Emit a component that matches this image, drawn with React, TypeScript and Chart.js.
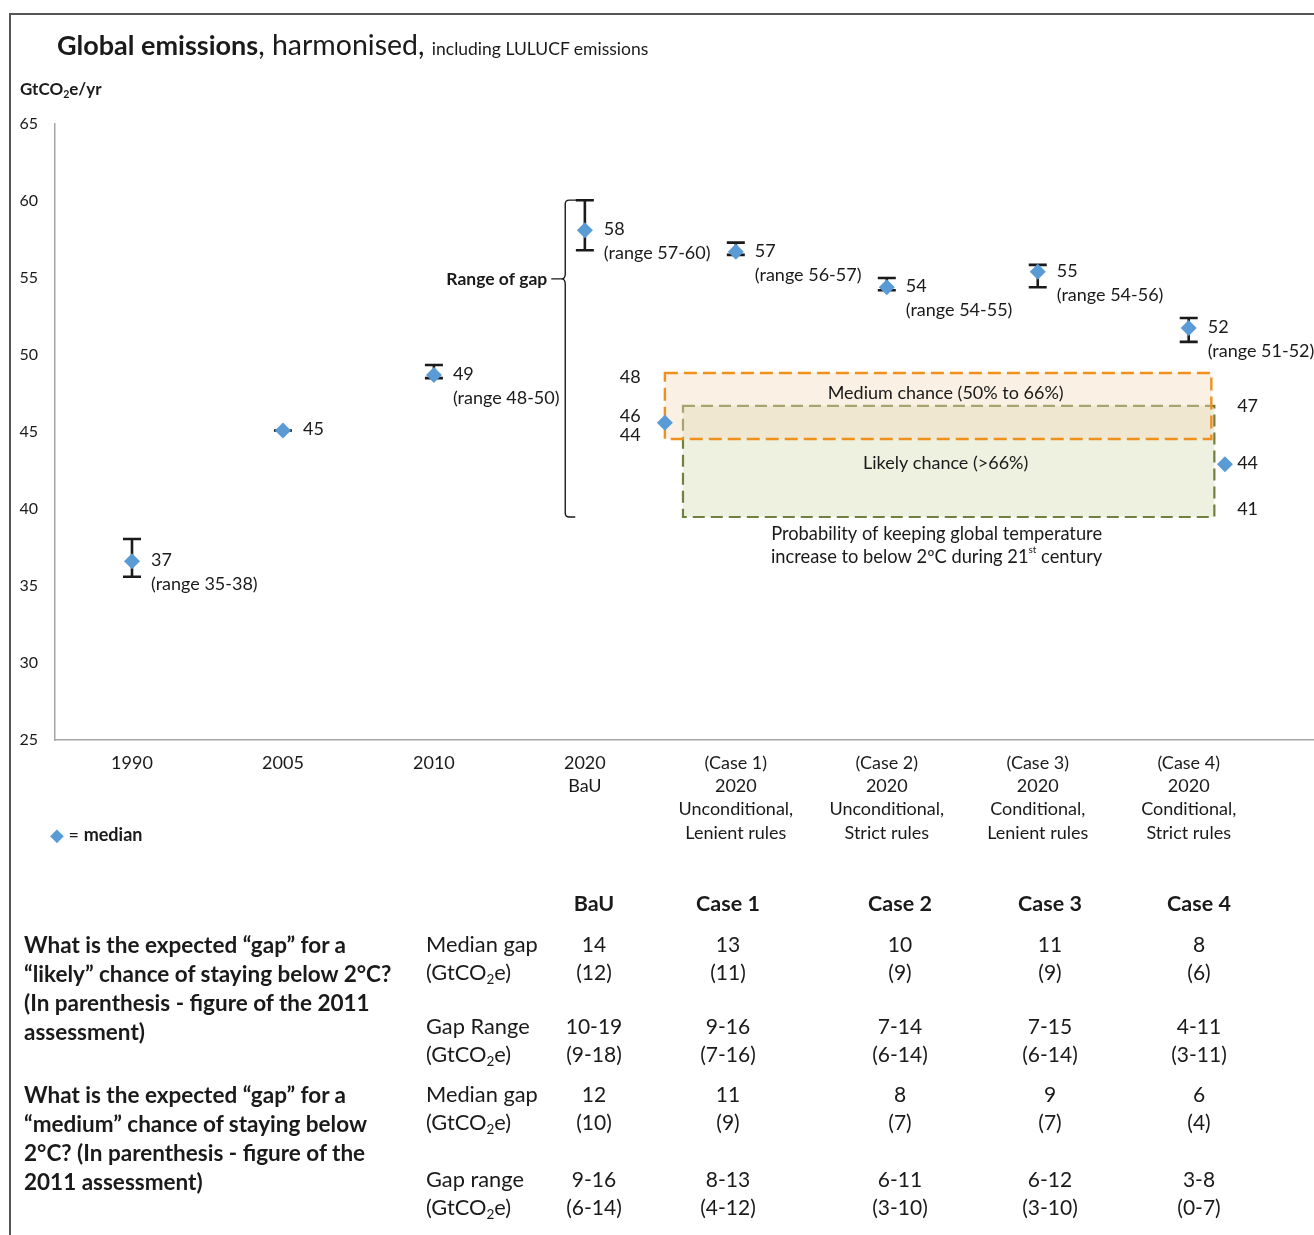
import React, { useEffect, useRef } from "react";
import { Chart, registerables } from "chart.js";

Chart.register(...registerables);

const FONT = "Lato, 'Noto Sans', sans-serif";
const INK = "#1a1a1a";

// ---------- chart data ----------
const categoryLabels: string[][] = [
  ["1990"],
  ["2005"],
  ["2010"],
  ["2020", "BaU"],
  ["(Case 1)", "2020", "Unconditional,", "Lenient rules"],
  ["(Case 2)", "2020", "Unconditional,", "Strict rules"],
  ["(Case 3)", "2020", "Conditional,", "Lenient rules"],
  ["(Case 4)", "2020", "Conditional,", "Strict rules"],
];
const medians = [36.6, 45.1, 48.7, 58.1, 56.7, 54.4, 55.4, 51.75];
const lows = [35.6, 45.1, 48.5, 56.8, 56.5, 54.2, 54.4, 50.85];
const highs = [38.05, 45.1, 49.35, 60.05, 57.3, 55.0, 55.85, 52.4];
const medianLabels = ["37", "45", "49", "58", "57", "54", "55", "52"];
const rangeLabels = [
  "(range 35-38)",
  "",
  "(range 48-50)",
  "(range 57-60)",
  "(range 56-57)",
  "(range 54-55)",
  "(range 54-56)",
  "(range 51-52)",
];
const yTicks = [25, 30, 35, 40, 45, 50, 55, 60, 65];

// probability boxes (x in category units, y in GtCO2e)
const targetX = [3.53, 7.24];
const targetY = [45.6, 42.9];
const mediumBox = { x0: 3.53, x1: 7.15, y0: 44.55, y1: 48.83 };
const likelyBox = { x0: 3.65, x1: 7.17, y0: 39.48, y1: 46.69 };
const leftBoxLabels = ["48", "46", "44"];
const leftBoxLabelY = [48.57, 46.04, 44.8];
const rightBoxLabels = ["47", "44", "41"];
const rightBoxLabelY = [46.69, 42.99, 40.0];
const gapBrace = { x: 2.87, top: 60.06, bottom: 39.48, tip: 54.94 };

// ---------- table data ----------
const tableColumns = ["BaU", "Case 1", "Case 2", "Case 3", "Case 4"];
const likelyMedianGap = ["14", "13", "10", "11", "8"];
const likelyMedianGap2011 = ["(12)", "(11)", "(9)", "(9)", "(6)"];
const likelyGapRange = ["10-19", "9-16", "7-14", "7-15", "4-11"];
const likelyGapRange2011 = ["(9-18)", "(7-16)", "(6-14)", "(6-14)", "(3-11)"];
const mediumMedianGap = ["12", "11", "8", "9", "6"];
const mediumMedianGap2011 = ["(10)", "(9)", "(7)", "(7)", "(4)"];
const mediumGapRange = ["9-16", "8-13", "6-11", "6-12", "3-8"];
const mediumGapRange2011 = ["(6-14)", "(4-12)", "(3-10)", "(3-10)", "(0-7)"];

// layout constants for the table
const colX = [594, 728, 900, 1050, 1199];

const Sub = ({ children }: { children: React.ReactNode }) => (
  <span style={{ fontSize: "0.62em", position: "relative", top: "0.28em" }}>{children}</span>
);

const Cell = ({
  cx,
  cy,
  children,
  bold,
  size = 21,
  w = 200,
}: {
  cx: number;
  cy: number;
  children: React.ReactNode;
  bold?: boolean;
  size?: number;
  w?: number;
}) => (
  <div
    style={{
      position: "absolute",
      left: cx - w / 2,
      width: w,
      top: cy - 15,
      height: 30,
      lineHeight: "30px",
      textAlign: "center",
      fontSize: size,
      fontWeight: bold ? 700 : 400,
      whiteSpace: "nowrap",
    }}
  >
    {children}
  </div>
);

const LeftText = ({ x, cy, children, bold, size = 21.8 }: any) => (
  <div
    style={{
      position: "absolute",
      left: x,
      top: cy - 15,
      height: 30,
      lineHeight: "30px",
      fontSize: size,
      fontWeight: bold ? 700 : 400,
      whiteSpace: "nowrap",
    }}
  >
    {children}
  </div>
);

export default function App() {
  const ref = useRef<HTMLCanvasElement>(null);

  useEffect(() => {
    document.body.style.margin = "0";
    const canvas = ref.current!;

    const overlay = {
      id: "overlay",
      beforeDatasetsDraw(chart: any) {
        const { ctx } = chart;
        const xs = chart.scales.x;
        const ys = chart.scales.y;
        const px = (v: number) => xs.getPixelForValue(v);
        const py = (v: number) => ys.getPixelForValue(v);
        ctx.save();

        // likely box (drawn first)
        const lb = likelyBox;
        ctx.fillStyle = "rgb(238,240,224)";
        ctx.fillRect(px(lb.x0), py(lb.y1), px(lb.x1) - px(lb.x0), py(lb.y0) - py(lb.y1));
        ctx.setLineDash([12, 6]);
        ctx.lineWidth = 2.2;
        ctx.strokeStyle = "#6f8040";
        ctx.strokeRect(px(lb.x0), py(lb.y1), px(lb.x1) - px(lb.x0), py(lb.y0) - py(lb.y1));

        // medium box (semi transparent over)
        const mb = mediumBox;
        ctx.fillStyle = "rgba(243,218,187,0.41)";
        ctx.fillRect(px(mb.x0), py(mb.y1), px(mb.x1) - px(mb.x0), py(mb.y0) - py(mb.y1));
        ctx.strokeStyle = "#f0901c";
        ctx.lineWidth = 2.4;
        ctx.setLineDash([13, 6]);
        ctx.strokeRect(px(mb.x0), py(mb.y1), px(mb.x1) - px(mb.x0), py(mb.y0) - py(mb.y1));
        ctx.setLineDash([]);

        // error bars
        ctx.strokeStyle = INK;
        ctx.lineWidth = 2.6;
        for (let i = 0; i < medians.length; i++) {
          const x = px(i);
          const yl = py(lows[i]);
          const yh = py(highs[i]);
          ctx.beginPath();
          ctx.moveTo(x, yl);
          ctx.lineTo(x, yh);
          ctx.moveTo(x - 9, yl);
          ctx.lineTo(x + 9, yl);
          ctx.moveTo(x - 9, yh);
          ctx.lineTo(x + 9, yh);
          ctx.stroke();
        }

        // brace
        const bx = px(gapBrace.x);
        const bt = py(gapBrace.top);
        const bb = py(gapBrace.bottom);
        const btip = py(gapBrace.tip);
        ctx.lineWidth = 1.4;
        ctx.beginPath();
        ctx.moveTo(bx + 13, bt);
        ctx.lineTo(bx + 4, bt);
        ctx.quadraticCurveTo(bx, bt, bx, bt + 4);
        ctx.lineTo(bx, btip - 5);
        ctx.quadraticCurveTo(bx, btip, bx - 4, btip);
        ctx.quadraticCurveTo(bx, btip, bx, btip + 5);
        ctx.lineTo(bx, bb - 4);
        ctx.quadraticCurveTo(bx, bb, bx + 4, bb);
        ctx.lineTo(bx + 10, bb);
        ctx.moveTo(bx - 4, btip);
        ctx.lineTo(bx - 14, btip);
        ctx.stroke();

        ctx.restore();
      },
      afterDatasetsDraw(chart: any) {
        const { ctx } = chart;
        const xs = chart.scales.x;
        const ys = chart.scales.y;
        const px = (v: number) => xs.getPixelForValue(v);
        const py = (v: number) => ys.getPixelForValue(v);
        ctx.save();
        ctx.fillStyle = INK;
        ctx.textBaseline = "middle";
        const text = (s: string, x: number, y: number, size: number, align: any = "left", weight = "400") => {
          ctx.font = `${weight} ${size}px ${FONT}`;
          ctx.textAlign = align;
          ctx.fillText(s, x, y);
        };

        for (let i = 0; i < medians.length; i++) {
          const x = px(i) + 19;
          const y = py(medians[i]);
          text(medianLabels[i], x + (i === 1 ? 1 : 0), y - 1, 18);
          if (rangeLabels[i]) text(rangeLabels[i], x, y + 23, 18);
        }

        text("Range of gap", px(gapBrace.x) - 18, py(gapBrace.tip), 17.5, "right", "700");

        leftBoxLabels.forEach((s, i) => text(s, px(3.3), py(leftBoxLabelY[i]), 18, "center"));
        rightBoxLabels.forEach((s, i) => text(s, px(7.39), py(rightBoxLabelY[i]), 18, "center"));

        text("Medium chance (50% to 66%)", px(5.39), py(47.53), 18, "center");
        text("Likely chance (>66%)", px(5.39), py(42.99), 18, "center");
        text("Probability of keeping global temperature", px(5.33), py(38.38), 18.3, "center");

        // second line with superscript "st"
        ctx.font = `400 18.3px ${FONT}`;
        const a = "increase to below 2ºC during 21";
        const c = " century";
        const wa = ctx.measureText(a).width;
        const wc = ctx.measureText(c).width;
        ctx.font = `400 10px ${FONT}`;
        const wb = ctx.measureText("st").width;
        const total = wa + wb + wc;
        let sx = px(5.33) - total / 2;
        const sy = py(36.88);
        text(a, sx, sy, 18.3);
        sx += wa;
        text("st", sx, sy - 7, 10);
        sx += wb;
        text(c, sx, sy, 18.3);

        ctx.restore();
      },
    };

    const chart = new Chart(canvas, {
      type: "scatter",
      data: {
        datasets: [
          {
            label: "median",
            data: medians.map((m, i) => ({ x: i, y: m })),
            pointStyle: "rectRot",
            pointRadius: 8,
            pointBackgroundColor: "#5b9bd5",
            pointBorderWidth: 0,
            pointBorderColor: "#5b9bd5",
          },
          {
            label: "target",
            data: targetX.map((x, i) => ({ x, y: targetY[i] })),
            pointStyle: "rectRot",
            pointRadius: 8,
            pointBackgroundColor: "#5b9bd5",
            pointBorderWidth: 0,
            pointBorderColor: "#5b9bd5",
          },
        ],
      },
      options: {
        responsive: false,
        animation: false,
        devicePixelRatio: 1,
        layout: { autoPadding: false, padding: { left: 0, top: 124, right: 0, bottom: 0 } },
        plugins: {
          legend: { display: false },
          tooltip: { enabled: false },
        },
        scales: {
          x: {
            type: "linear",
            min: -0.51,
            max: 7.83,
            grid: { display: false, drawTicks: false },
            border: { display: true, color: "#a6a6a6", width: 1.5 },
            afterBuildTicks: (scale: any) => {
              scale.ticks = categoryLabels.map((_, i) => ({ value: i }));
            },
            afterFit: (scale: any) => {
              scale.height = 495;
              scale.paddingLeft = 0;
              scale.paddingRight = 0;
            },
            ticks: {
              autoSkip: false,
              maxRotation: 0,
              padding: 11,
              color: INK,
              font: { family: FONT, size: 18, lineHeight: 1.3 },
              callback: (_v: any, i: number) => categoryLabels[i],
            },
          },
          y: {
            type: "linear",
            min: 25,
            max: 65,
            grid: { display: false, drawTicks: false },
            border: { display: true, color: "#a6a6a6", width: 1.5 },
            afterBuildTicks: (scale: any) => {
              scale.ticks = yTicks.map((v) => ({ value: v }));
            },
            afterFit: (scale: any) => {
              scale.width = 55;
              scale.paddingTop = 0;
              scale.paddingBottom = 0;
            },
            ticks: {
              padding: 17,
              color: INK,
              font: { family: FONT, size: 16 },
            },
          },
        },
      },
      plugins: [overlay],
    });
    return () => chart.destroy();
  }, []);

  return (
    <div
      style={{
        position: "relative",
        width: 1314,
        height: 1235,
        overflow: "hidden",
        fontFamily: FONT,
        color: INK,
        background: "#fff",
      }}
    >
      <canvas ref={ref} width={1314} height={1235} style={{ position: "absolute", left: 0, top: 0 }} />
      {/* frame */}
      <div
        style={{
          position: "absolute",
          left: 9,
          top: 13,
          width: 1320,
          height: 1240,
          borderTop: "2px solid #555",
          borderLeft: "2px solid #555",
        }}
      />
      {/* title */}
      <div style={{ position: "absolute", left: 57, top: 26, whiteSpace: "nowrap", lineHeight: "36px" }}>
        <span style={{ fontSize: 27, fontWeight: 700 }}>Global emissions</span>
        <span style={{ fontSize: 28.5 }}>, harmonised, </span>
        <span style={{ fontSize: 17.5 }}>including LULUCF emissions</span>
      </div>
      {/* y axis title */}
      <div style={{ position: "absolute", left: 20, top: 78, fontSize: 17, fontWeight: 700, lineHeight: "22px" }}>
        GtCO<Sub>2</Sub>e/yr
      </div>
      {/* legend */}
      <div style={{ position: "absolute", left: 50, top: 823, fontSize: 18, lineHeight: "22px", whiteSpace: "nowrap" }}>
        <span style={{ color: "#5b9bd5", fontSize: 18 }}>◆</span> = <b>median</b>
      </div>

      {/* table header */}
      {tableColumns.map((c, i) => (
        <Cell key={"h" + i} cx={colX[i]} cy={903} bold size={21.5}>
          {c}
        </Cell>
      ))}

      {/* questions */}
      <div
        style={{
          position: "absolute",
          left: 24,
          top: 944 - 14.5,
          fontSize: 22.5,
          fontWeight: 700,
          lineHeight: "29px",
          whiteSpace: "nowrap",
        }}
      >
        What is the expected “gap” for a<br />
        “likely” chance of staying below 2°C?
        <br />
        (In parenthesis - figure of the 2011
        <br />
        assessment)
      </div>
      <div
        style={{
          position: "absolute",
          left: 24,
          top: 1094 - 14.5,
          fontSize: 22.5,
          fontWeight: 700,
          lineHeight: "29px",
          whiteSpace: "nowrap",
        }}
      >
        What is the expected “gap” for a<br />
        “medium” chance of staying below
        <br />
        2°C? (In parenthesis - figure of the
        <br />
        2011 assessment)
      </div>

      {/* row labels */}
      <LeftText x={426} cy={944}>Median gap</LeftText>
      <LeftText x={426} cy={972}>
        (GtCO<Sub>2</Sub>e)
      </LeftText>
      <LeftText x={426} cy={1026}>Gap Range</LeftText>
      <LeftText x={426} cy={1054}>
        (GtCO<Sub>2</Sub>e)
      </LeftText>
      <LeftText x={426} cy={1094}>Median gap</LeftText>
      <LeftText x={426} cy={1122}>
        (GtCO<Sub>2</Sub>e)
      </LeftText>
      <LeftText x={426} cy={1179}>Gap range</LeftText>
      <LeftText x={426} cy={1207}>
        (GtCO<Sub>2</Sub>e)
      </LeftText>

      {[
        { vals: likelyMedianGap, y: 944 },
        { vals: likelyMedianGap2011, y: 972 },
        { vals: likelyGapRange, y: 1026 },
        { vals: likelyGapRange2011, y: 1054 },
        { vals: mediumMedianGap, y: 1094 },
        { vals: mediumMedianGap2011, y: 1122 },
        { vals: mediumGapRange, y: 1179 },
        { vals: mediumGapRange2011, y: 1207 },
      ].map((row, r) =>
        row.vals.map((v, i) => (
          <Cell key={r + "-" + i} cx={colX[i]} cy={row.y}>
            {v}
          </Cell>
        ))
      )}
    </div>
  );
}
